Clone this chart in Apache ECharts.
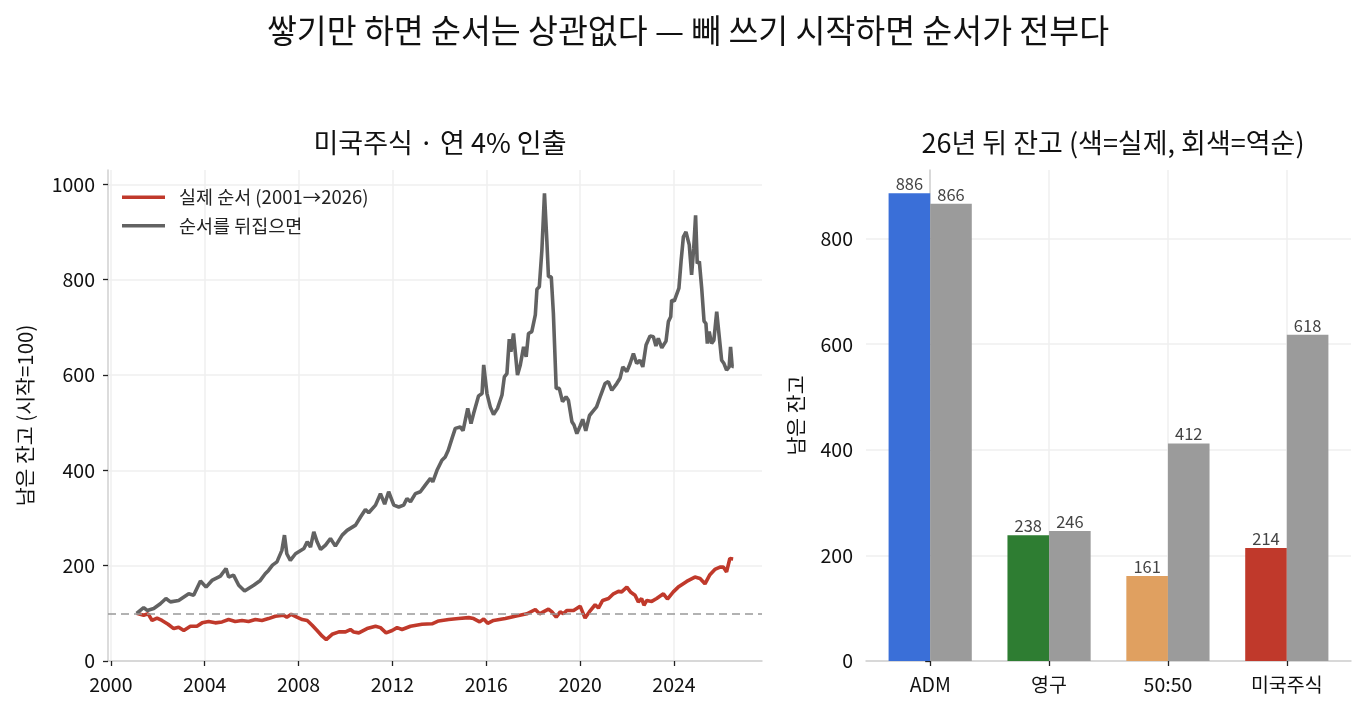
<!DOCTYPE html>
<html><head><meta charset="utf-8">
<script src="https://cdn.jsdelivr.net/npm/echarts@6/dist/echarts.min.js"></script>
<style>html,body{margin:0;padding:0;background:#fff}#c{width:1365px;height:713px}</style>
</head><body><div id="c"></div>
<script>
// ---- data ----
const xTicks = [2000, 2004, 2008, 2012, 2016, 2020, 2024];
const yTicksLeft = [0, 200, 400, 600, 800, 1000];
const yTicksRight = [0, 200, 400, 600, 800];

// 실제 순서 (actual order) — decimal year / balance
const realT = [2001.10,2001.40,2001.59,2001.76,2001.97,2002.18,2002.44,2002.68,2002.89,2003.11,2003.39,2003.67,2003.89,2004.17,2004.45,2004.74,2005.02,2005.30,2005.59,2005.87,2006.16,2006.44,2006.72,2007.01,2007.36,2007.50,2007.69,2007.93,
2008.16,2008.37,2008.58,2008.79,2009.01,2009.18,2009.43,2009.72,2010.00,2010.21,2010.35,2010.57,2010.92,2011.28,2011.49,2011.73,2011.99,2012.20,2012.41,2012.77,2013.26,2013.69,2013.97,2014.40,2014.82,2015.25,2015.46,2015.72,2015.89,2016.06,2016.31,
2016.81,2017.23,2017.73,2018.09,2018.27,2018.65,2018.80,2018.98,2019.15,2019.29,2019.43,2019.72,2020.00,2020.21,2020.39,2020.64,2020.78,2020.96,2021.21,2021.42,2021.63,2021.77,2021.99,2022.16,2022.34,2022.48,2022.62,2022.72,2022.84,2023.05,2023.26,2023.55,2023.72,2023.97,2024.18,2024.33,2024.54,2024.89,2025.11,2025.32,2025.53,2025.74,2025.96,2026.10,2026.24,2026.38,2026.52];
const realV = [100,96,99,85,90,85,77,68,71,64,73,73,80,83,80,82,87,83,85,83,87,85,89,94,96,92,98,92,
87,85,75,64,52,45,56,61,61,66,61,59,68,73,70,59,64,70,66,73,77,78,84,87,89,91,89,82,88,79,85,
89,94,99,108,99,109,103,92,103,99,106,106,115,90,103,118,111,127,131,141,146,145,155,144,138,124,131,117,127,125,131,141,130,145,155,160,167,176,173,162,181,192,197,197,187,215,214];

// 순서를 뒤집으면 (reversed order)
const revT = [2001.10,2001.40,2001.55,2001.83,2002.11,2002.35,2002.54,2002.89,2003.32,2003.53,2003.82,2004.06,2004.31,2004.67,2004.91,2005.02,2005.23,2005.45,2005.70,2006.09,2006.37,2006.58,2006.72,2006.89,2007.08,2007.29,2007.40,2007.50,2007.65,
2007.87,2008.23,2008.37,2008.51,2008.65,2008.79,2008.94,2009.15,2009.36,2009.57,2009.86,2010.07,2010.43,2010.64,2010.85,2010.99,2011.28,2011.49,2011.67,2011.84,2012.06,2012.27,2012.48,2012.62,2012.77,2012.98,2013.19,2013.40,2013.62,2013.72,2013.90,2014.11,2014.25,2014.38,
2014.54,2014.68,2014.89,2015.01,2015.21,2015.35,2015.46,2015.67,2015.82,2015.89,2016.03,2016.17,2016.31,2016.48,2016.67,2016.77,2016.88,2016.98,2017.05,2017.16,2017.33,2017.45,2017.59,2017.70,2017.80,2017.94,2018.09,2018.16,2018.26,2018.37,2018.48,2018.58,2018.65,2018.77,2018.86,2018.98,2019.11,2019.25,2019.40,2019.50,2019.65,2019.74,2019.86,2020.00,2020.11,2020.24,2020.40,2020.55,2020.70,2020.88,
2021.06,2021.20,2021.35,2021.56,2021.70,2021.82,2021.99,2022.13,2022.27,2022.41,2022.55,2022.67,2022.81,2022.98,2023.12,2023.23,2023.33,2023.48,2023.66,2023.76,2023.86,2023.90,2024.01,2024.21,2024.30,2024.40,2024.51,2024.65,2024.75,2024.84,2024.92,2024.99,2025.08,2025.18,2025.28,2025.36,2025.42,2025.50,2025.60,2025.70,2025.82,2025.89,2026.03,2026.13,2026.24,2026.35,2026.41,2026.48,2026.52];
const revV = [100,112,106,110,120,131,124,127,141,138,168,155,169,178,194,176,180,159,147,159,169,183,190,201,208,232,264,225,211,
225,236,250,239,271,250,234,243,257,241,264,274,285,302,318,311,327,351,329,355,327,323,327,341,334,351,355,369,383,376,400,421,428,442,
467,488,491,483,530,498,519,556,561,621,561,533,517,530,558,596,603,675,649,687,600,621,659,638,687,691,726,780,785,862,981,883,806,806,729,572,572,544,554,547,502,495,477,493,507,483,515,524,533,558,
582,586,568,582,593,617,607,624,645,624,631,617,663,682,680,661,677,657,671,712,722,757,755,782,838,890,900,873,810,866,935,834,838,782,713,708,666,691,666,673,733,734,631,624,610,617,659,617,618];

// 26년 뒤 잔고
const categories = ['ADM', '영구', '50:50', '미국주식'];
const finalReal = [886, 238, 161, 214];
const finalReversed = [866, 246, 412, 618];

// ---- styles ----
const catColors = ['#3a6fd8', '#2e7d32', '#e0a060', '#c0392b'];
const RED = '#c0392b', GREY = '#626262', BARGREY = '#9b9b9b';
const FONT = '"Noto Sans CJK KR", "Noto Sans", sans-serif';

const chart = echarts.init(document.getElementById('c'), null, {renderer: 'canvas'});
const axisCommon = {
  axisLine: {show: true, lineStyle: {color: '#d0d0d0', width: 1.5}},
  axisTick: {show: true, length: 5, lineStyle: {color: '#222', width: 1.3}},
  axisLabel: {color: '#111', fontSize: 19.5, fontFamily: FONT},
  splitLine: {show: true, lineStyle: {color: '#efefef', width: 1.5}}
};

chart.setOption({
  animation: false,
  textStyle: {fontFamily: FONT},
  title: [
    {text: '쌓기만 하면 순서는 상관없다 — 빼 쓰기 시작하면 순서가 전부다', left: 683, textAlign: 'center', top: 9,
     textStyle: {fontSize: 32.5, fontWeight: 'normal', color: '#111', fontFamily: FONT}},
    {text: '미국주식 · 연 4% 인출', left: 435, textAlign: 'center', top: 124,
     textStyle: {fontSize: 27, fontWeight: 'normal', color: '#111', fontFamily: FONT}},
    {text: '26년 뒤 잔고 (색=실제, 회색=역순)', left: 1108, textAlign: 'center', top: 124,
     textStyle: {fontSize: 27, fontWeight: 'normal', color: '#111', fontFamily: FONT}}
  ],
  legend: {
    left: 122, top: 188, orient: 'vertical', itemWidth: 43, itemHeight: 3.5, itemGap: 10, padding: 0,
    icon: 'rect',
    textStyle: {fontSize: 18.5, color: '#222', fontFamily: FONT, padding: [0, 0, 0, 9]},
    data: ['실제 순서 (2001→2026)', '순서를 뒤집으면']
  },
  grid: [
    {left: 108, top: 170, width: 654, height: 491},
    {left: 866, top: 170, width: 485, height: 491}
  ],
  xAxis: [
    Object.assign({}, axisCommon, {
      type: 'value', gridIndex: 0, min: 1999.88, max: 2027.75,
      axisTick: Object.assign({}, axisCommon.axisTick, {customValues: xTicks}),
      axisLabel: Object.assign({}, axisCommon.axisLabel, {customValues: xTicks, margin: 14, formatter: v => String(v)})
    }),
    Object.assign({}, axisCommon, {
      type: 'value', gridIndex: 1, min: -0.54, max: 3.54,
      axisTick: Object.assign({}, axisCommon.axisTick, {customValues: [0, 1, 2, 3]}),
      axisLabel: Object.assign({}, axisCommon.axisLabel, {customValues: [0, 1, 2, 3], margin: 14, formatter: v => categories[Math.round(v)]})
    })
  ],
  yAxis: [
    Object.assign({}, axisCommon, {
      type: 'value', gridIndex: 0, min: 0, max: 1030,
      name: '남은 잔고 (시작=100)', nameLocation: 'middle', nameGap: 73,
      nameTextStyle: {fontSize: 20.5, color: '#111', fontFamily: FONT},
      axisTick: Object.assign({}, axisCommon.axisTick, {customValues: yTicksLeft}),
      axisLabel: Object.assign({}, axisCommon.axisLabel, {customValues: yTicksLeft, margin: 13, formatter: v => String(v)})
    }),
    Object.assign({}, axisCommon, {
      type: 'value', gridIndex: 1, min: 0, max: 930,
      name: '남은 잔고', nameLocation: 'middle', nameGap: 60,
      nameTextStyle: {fontSize: 20.5, color: '#111', fontFamily: FONT},
      axisTick: Object.assign({}, axisCommon.axisTick, {customValues: yTicksRight}),
      axisLabel: Object.assign({}, axisCommon.axisLabel, {customValues: yTicksRight, margin: 13, formatter: v => String(v)})
    })
  ],
  series: [
    {
      name: '실제 순서 (2001→2026)', type: 'line', xAxisIndex: 0, yAxisIndex: 0,
      data: realT.map((t, i) => [t, realV[i]]), symbol: 'none', showSymbol: false,
      lineStyle: {color: RED, width: 3.6}, itemStyle: {color: RED}, z: 3,
      markLine: {silent: true, symbol: 'none', label: {show: false},
        lineStyle: {color: '#999', width: 1.6, type: [8, 5]}, data: [{yAxis: 100}]}
    },
    {
      name: '순서를 뒤집으면', type: 'line', xAxisIndex: 0, yAxisIndex: 0,
      data: revT.map((t, i) => [t, revV[i]]), symbol: 'none', showSymbol: false,
      lineStyle: {color: GREY, width: 3.6}, itemStyle: {color: GREY}, z: 4
    },
    {
      name: '실제', type: 'bar', xAxisIndex: 1, yAxisIndex: 1, barWidth: 41.6, barGap: '0%',
      data: finalReal.map((v, i) => ({value: [i, v], itemStyle: {color: catColors[i]}})),
      label: {show: true, position: 'top', distance: 1, color: '#444', fontSize: 16.5, fontFamily: FONT, formatter: p => p.value[1]}
    },
    {
      name: '역순', type: 'bar', xAxisIndex: 1, yAxisIndex: 1, barWidth: 41.6, barGap: '0%',
      data: finalReversed.map((v, i) => [i, v]), itemStyle: {color: BARGREY},
      label: {show: true, position: 'top', distance: 1, color: '#444', fontSize: 16.5, fontFamily: FONT, formatter: p => p.value[1]}
    }
  ]
});
</script></body></html>
